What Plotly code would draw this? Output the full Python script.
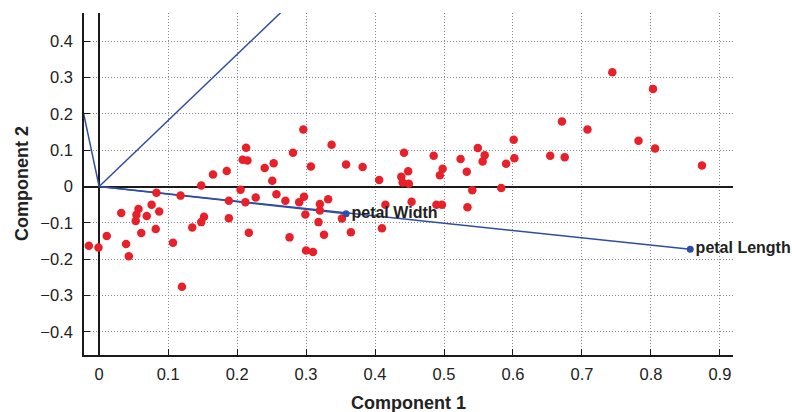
import plotly.graph_objects as go

# Scores (Component 1, Component 2)
score_x = [0.083, 0.118, 0.148, 0.165, 0.185, 0.205, 0.188, 0.212, 0.032, 0.057,
           0.054, 0.053, 0.076, 0.069, 0.087, 0.152, 0.148, 0.188, 0.135, 0.082,
           0.061, 0.011, -0.015, -0.001, 0.039, 0.043, 0.107, 0.120, 0.217, 0.208,
           0.215, 0.213, 0.240, 0.253, 0.251, 0.227, 0.257, 0.270, 0.290, 0.297,
           0.281, 0.296, 0.307, 0.337, 0.358, 0.320, 0.332, 0.320, 0.299, 0.318,
           0.352, 0.326, 0.276, 0.365, 0.300, 0.310, 0.382, 0.406, 0.442, 0.438,
           0.440, 0.448, 0.449, 0.485, 0.494, 0.498, 0.524, 0.533, 0.549, 0.559,
           0.556, 0.590, 0.602, 0.601, 0.541, 0.583, 0.415, 0.453, 0.489, 0.497,
           0.534, 0.410, 0.654, 0.675, 0.671, 0.708, 0.744, 0.782, 0.803, 0.806,
           0.874]
score_y = [-0.017, -0.025, 0.003, 0.033, 0.043, -0.009, -0.039, -0.043, -0.073, -0.062,
           -0.078, -0.095, -0.050, -0.081, -0.069, -0.083, -0.098, -0.087, -0.113, -0.117,
           -0.128, -0.136, -0.163, -0.168, -0.158, -0.192, -0.155, -0.276, -0.127, 0.074,
           0.072, 0.107, 0.051, 0.064, 0.016, -0.030, -0.021, -0.039, -0.043, -0.028,
           0.093, 0.157, 0.055, 0.115, 0.061, -0.048, -0.035, -0.066, -0.077, -0.098,
           -0.088, -0.133, -0.140, -0.126, -0.176, -0.180, 0.054, 0.018, 0.093, 0.027,
           0.011, 0.042, 0.008, 0.085, 0.031, 0.049, 0.076, 0.041, 0.106, 0.086,
           0.069, 0.063, 0.078, 0.129, -0.010, -0.004, -0.050, -0.042, -0.050, -0.050,
           -0.057, -0.115, 0.085, 0.081, 0.179, 0.157, 0.315, 0.126, 0.269, 0.105,
           0.058]

# Loadings (variable vectors)
var_names = ["sepal Length", "sepal Width", "petal Length", "petal Width"]
load_x = [0.361, -0.082, 0.857, 0.358]
load_y = [0.657, 0.730, -0.173, -0.075]
shown_labels = ["petal Length", "petal Width"]

tick_vals_x = [0, 0.1, 0.2, 0.3, 0.4, 0.5, 0.6, 0.7, 0.8, 0.9]
tick_vals_y = [-0.4, -0.3, -0.2, -0.1, 0, 0.1, 0.2, 0.3, 0.4]

BLUE = "#2f4ea3"
RED = "#e8202a"
FONT = "Liberation Sans, Arial, Helvetica, sans-serif"

fig = go.Figure()

for name, lx, ly in zip(var_names, load_x, load_y):
    fig.add_trace(go.Scatter(x=[0, lx], y=[0, ly], mode="lines",
                             line=dict(color=BLUE, width=1.5),
                             showlegend=False, hoverinfo="skip"))

fig.add_trace(go.Scatter(x=score_x, y=score_y, mode="markers",
                         marker=dict(color=RED, size=8.5),
                         showlegend=False))

idx = [var_names.index(n) for n in shown_labels]
fig.add_trace(go.Scatter(x=[load_x[i] for i in idx], y=[load_y[i] for i in idx],
                         mode="markers+text",
                         text=[var_names[i] for i in idx],
                         textposition="middle right",
                         textfont=dict(family=FONT, size=16, color="#222", weight="bold"),
                         marker=dict(color=BLUE, size=7),
                         cliponaxis=False,
                         showlegend=False))

axis_common = dict(
    showline=True, linecolor="#1a1a1a", linewidth=1.5,
    ticks="inside", ticklen=6, tickcolor="#1a1a1a", tickwidth=1.2,
    showgrid=True, gridcolor="#8a8a8a", gridwidth=1, griddash="1px,2px",
    zeroline=True, zerolinecolor="#1a1a1a", zerolinewidth=1.5,
    tickfont=dict(family=FONT, size=16.5, color="#222"),
    mirror=False,
)

fig.update_xaxes(range=[-0.022, 0.919], tickvals=tick_vals_x,
                 ticklabelstandoff=3, **axis_common)
fig.update_yaxes(range=[-0.464, 0.478], tickvals=tick_vals_y,
                 ticklabelstandoff=6, **axis_common)

fig.add_annotation(text="<b>Component 1</b>", xref="paper", yref="paper",
                   x=0.5, y=0, yanchor="middle", yshift=-48, showarrow=False,
                   font=dict(family=FONT, size=18, color="#222"))
fig.add_annotation(text="<b>Component 2</b>", xref="paper", yref="paper",
                   x=0, y=0.5, xanchor="center", xshift=-62, textangle=-90,
                   showarrow=False, font=dict(family=FONT, size=18, color="#222"))

fig.update_layout(
    width=792, height=412,
    margin=dict(l=84, r=59, t=13, b=57),
    plot_bgcolor="white", paper_bgcolor="white",
    font=dict(family=FONT),
)

fig.write_html("out.html")
